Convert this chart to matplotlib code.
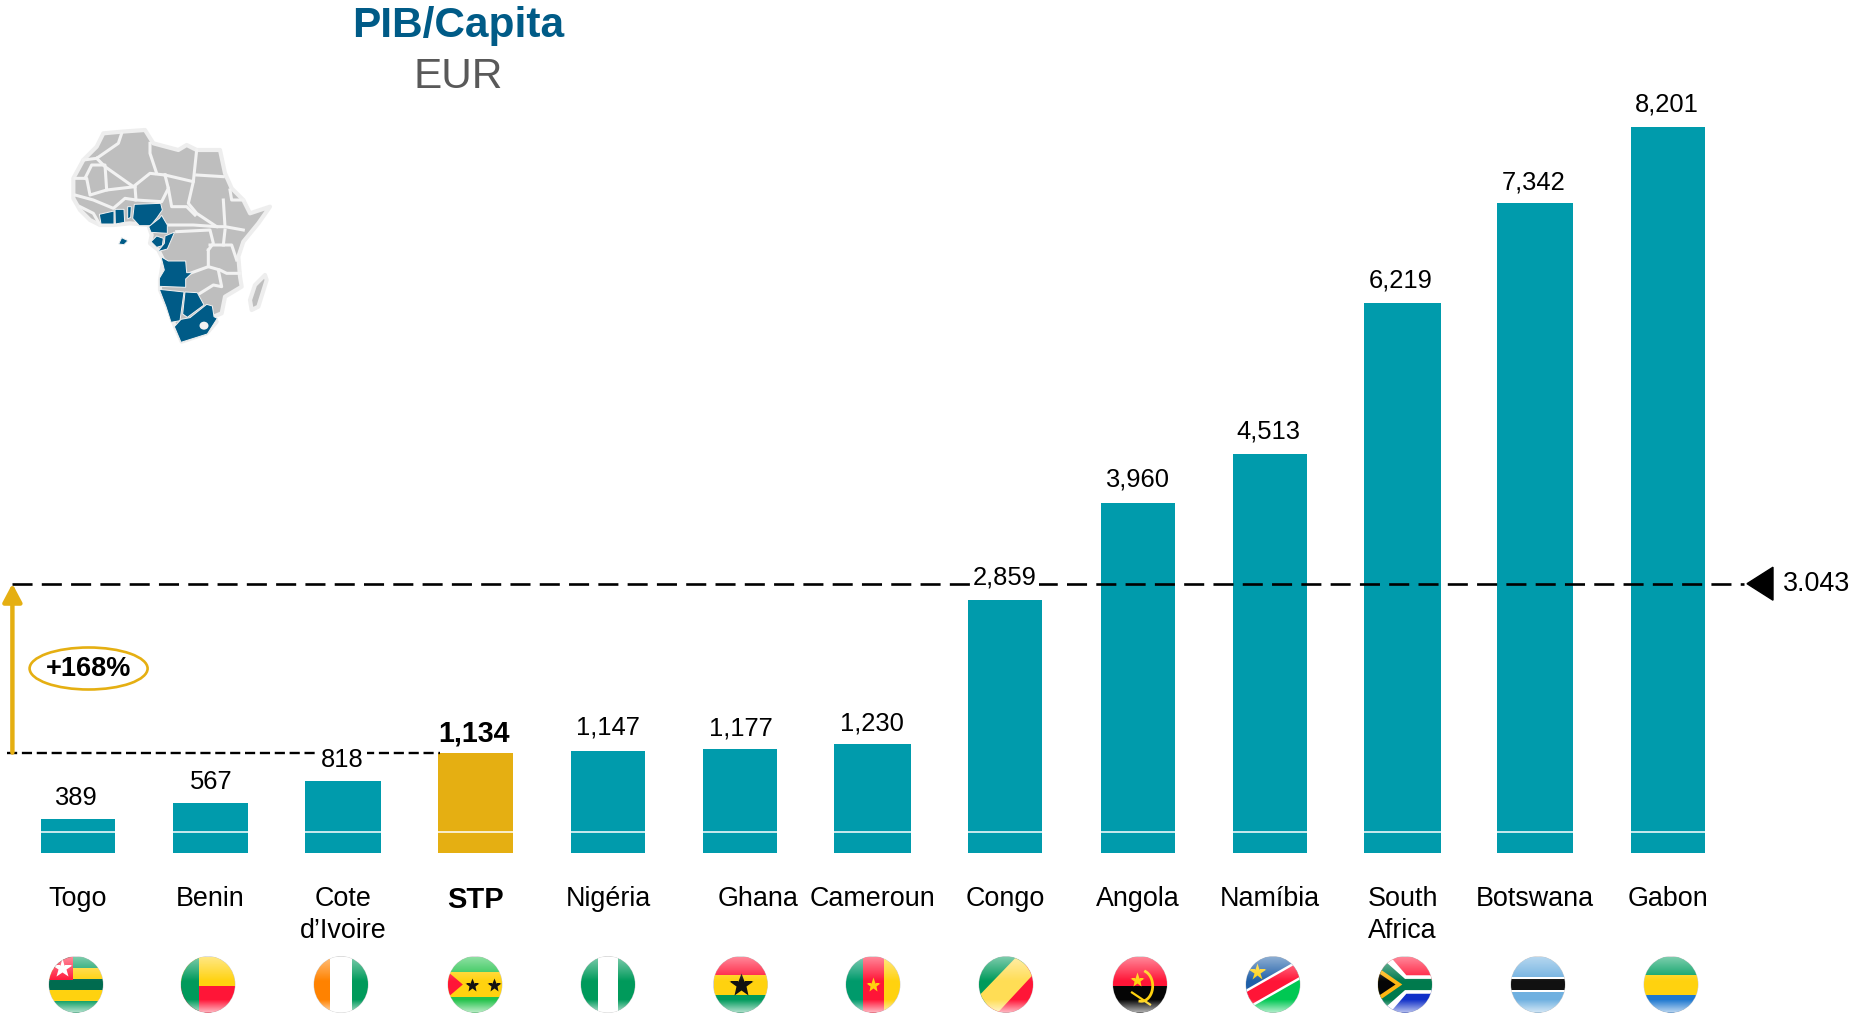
import matplotlib
matplotlib.use('Agg')
import matplotlib.pyplot as plt
from matplotlib.patches import Ellipse, Polygon
import numpy as np

plt.rcParams['font.family'] = ['Liberation Sans', 'DejaVu Sans']

# data
countries = ['Togo', 'Benin', 'Cote\nd\u2019Ivoire', 'STP', 'Nig\u00e9ria', 'Ghana', 'Cameroun',
             'Congo', 'Angola', 'Nam\u00edbia', 'South\nAfrica', 'Botswana', 'Gabon']
gdp = [389, 567, 818, 1134, 1147, 1177, 1230, 2859, 3960, 4513, 6219, 7342, 8201]
average = 3043
average_label = '3.043'
growth_label = '+168%'
stp = 'STP'

TEAL = '#009BAC'
GOLD = '#E5AF12'
BLUE = '#005B87'

W, H = 1852, 1013
X0, STEP = 78.0, 132.47      # pixel of first bar, pixels per category
BASE, SCALE = 853, 0.0885    # pixel of zero, pixels per EUR

# small label nudges in points, same order as countries
label_dx = [-1.6, 0.2, -0.3, -0.8, -0.3, 0.4, -0.4, -0.4, -0.4, -1.1, -1.1, -0.8, -0.4]
label_dy = [6.2, 6.2, 6.2, 3.4, 8.5, 6.2, 6.2, 7.6, 7.6, 7.0, 7.6, 6.2, 7.6]
bar_width = [0.56, 0.56, 0.58, 0.56, 0.56, 0.56, 0.58, 0.56, 0.56, 0.56, 0.58, 0.57, 0.56]


def px_x(px):
    return (px - X0) / STEP


fig = plt.figure(figsize=(W / 100, H / 100), dpi=100)
ax = fig.add_axes([0, 0, 1, 1])
ax.set_xlim(px_x(0), px_x(W))
ax.set_ylim((BASE - H) / SCALE, BASE / SCALE)
ax.axis('off')

# overlay in pixels for the map and flags
pic = fig.add_axes([0, 0, 1, 1])
pic.set_xlim(0, W)
pic.set_ylim(H, 0)
pic.axis('off')
pic.patch.set_alpha(0)

xs = np.arange(len(countries))
colors = [GOLD if c == stp else TEAL for c in countries]
ax.bar(xs, gdp, width=bar_width, color=colors, zorder=2)
# thin white stripe across the foot of every bar
half = np.array(bar_width) / 2
ax.hlines([232] * len(xs), xs - half, xs + half, color='white', lw=1.1, zorder=3)

# reference lines
ax.plot([px_x(12), px_x(1744)], [average, average], color='black', lw=1.9,
        linestyle=(0, (7.6, 3.5)), zorder=4)
ax.plot([px_x(7), px_x(440)], [gdp[3], gdp[3]], color='black', lw=1.7,
        linestyle=(0, (4.3, 2.0)), zorder=4)

# value labels
for x, v, c, dx, dy in zip(xs, gdp, countries, label_dx, label_dy):
    bold = c == stp
    box = dict(facecolor='white', edgecolor='none', pad=2) if v in (818, 2859) else None
    ax.annotate(f'{v:,}', (x, v), xytext=(dx, dy), textcoords='offset points',
                ha='center', va='bottom', fontsize=20.7 if bold else 18.4,
                fontweight='bold' if bold else 'normal', color='black', bbox=box, zorder=5)

# category labels
for x, c in zip(xs, countries):
    bold = c == stp
    dx = 12.7 if c == 'Ghana' else 0
    ax.annotate(c, (x, 0), xytext=(dx, -23.5), textcoords='offset points', ha='center', va='top',
                fontsize=21 if bold else 19.4, fontweight='bold' if bold else 'normal',
                linespacing=1.32, color='black')

# titles
pic.text(458, 25.5, 'PIB/Capita', ha='center', va='center', fontsize=30.5, fontweight='bold', color=BLUE)
pic.text(458, 76.5, 'EUR', ha='center', va='center', fontsize=30.5, color='#595959')

# growth arrow and ellipse
ax.annotate('', xy=(px_x(12.4), average), xytext=(px_x(12.4), gdp[3]),
            arrowprops=dict(arrowstyle='-|>,head_width=0.36,head_length=0.68', mutation_scale=16, color=GOLD, lw=3.2,
                            shrinkA=0, shrinkB=0), zorder=5)
pic.add_patch(Ellipse((88.6, 668.5), 118, 42, facecolor='none', edgecolor=GOLD, lw=1.9))
pic.text(88.6, 668.5, growth_label, ha='center', va='center', fontsize=19.5, fontweight='bold', color='black')

# average marker
tip = 1747
ax.add_patch(Polygon([[px_x(tip), average], [px_x(tip + 26), average + 16.5 / SCALE],
                      [px_x(tip + 26), average - 16.5 / SCALE]], color='black', zorder=5))
ax.text(px_x(1783), average, average_label, ha='left', va='center', fontsize=19.4, color='black')


# map, traced in crop coordinates
def mp(points):
    return [(50 + x / 3, 110 + y / 3) for x, y in points]


africa = [(160, 70), (215, 65), (285, 60), (310, 100), (385, 120), (410, 105), (440, 120), (510, 120), (525, 190),
          (545, 235), (580, 270), (600, 310), (660, 290), (625, 340), (580, 395), (565, 440), (570, 500), (575, 530),
          (525, 560), (515, 610), (490, 620), (500, 635), (470, 670), (395, 695), (375, 650), (360, 610), (330, 540),
          (330, 510), (340, 450), (325, 420), (300, 400), (305, 375), (295, 345), (240, 340), (190, 345), (150, 345),
          (120, 330), (90, 300), (70, 265), (70, 205), (100, 150), (140, 110)]
madagascar = [(645, 495), (650, 510), (625, 590), (605, 600), (600, 570), (615, 525)]
borders = [[(100, 150), (140, 145), (205, 100), (215, 70)],
           [(140, 145), (165, 170), (250, 230), (300, 190), (345, 195)],
           [(300, 100), (300, 130), (320, 190)],
           [(105, 205), (125, 165), (165, 165), (170, 240), (255, 230)],
           [(75, 205), (110, 205), (120, 255), (170, 240)],
           [(255, 230), (258, 270), (225, 265), (190, 295), (130, 270), (75, 255)],
           [(90, 290), (130, 310), (150, 345)],
           [(258, 270), (335, 275), (355, 235), (345, 195)],
           [(345, 195), (430, 215), (440, 120)],
           [(440, 195), (520, 200)],
           [(430, 215), (415, 280), (440, 310), (500, 350), (520, 350)],
           [(355, 235), (365, 290), (410, 290), (435, 315)],
           [(355, 345), (430, 345), (500, 350)],
           [(540, 240), (545, 270), (580, 270)],
           [(520, 270), (525, 350), (580, 360)],
           [(380, 365), (480, 360), (490, 400), (475, 420)],
           [(480, 405), (545, 405), (560, 450)],
           [(475, 420), (475, 470), (420, 490)],
           [(475, 470), (510, 480), (530, 490), (570, 490)],
           [(505, 480), (515, 530), (490, 525), (450, 550)],
           [(520, 405), (525, 360)]]
highlighted = [[(148, 313), (192, 303), (192, 342), (153, 342)],
               [(195, 298), (222, 298), (224, 337), (196, 342)],
               [(233, 290), (244, 290), (242, 322), (233, 327)],
               [(253, 283), (332, 280), (337, 300), (322, 322), (302, 347), (268, 347), (248, 325)],
               [(335, 316), (352, 345), (352, 370), (303, 367), (296, 350), (328, 325)],
               [(303, 395), (320, 378), (340, 385), (337, 407), (320, 412)],
               [(345, 378), (374, 366), (352, 417), (323, 425), (343, 400)],
               [(215, 383), (234, 392), (222, 404), (206, 402)],
               [(333, 440), (355, 453), (407, 453), (410, 488), (427, 488), (407, 507), (407, 532), (328, 529),
                (328, 505), (343, 480)],
               [(328, 538), (402, 546), (390, 632), (363, 637), (348, 590)],
               [(405, 546), (442, 548), (462, 585), (412, 622), (398, 612)],
               [(487, 588), (492, 620), (502, 625), (472, 672), (393, 697), (373, 650), (393, 628), (420, 623),
                (470, 583)]]
for shape in (africa, madagascar):
    pic.add_patch(Polygon(mp(shape), facecolor='#BEBEBE', edgecolor='#EEEEEE', lw=3, joinstyle='round'))
for line in borders:
    pts = np.array(mp(line))
    pic.plot(pts[:, 0], pts[:, 1], color='#F2F2F2', lw=2.2, solid_joinstyle='round')
for shape in highlighted:
    pic.add_patch(Polygon(mp(shape), facecolor=BLUE, edgecolor='#F2F2F2', lw=0.7, zorder=3))
pic.add_patch(Ellipse((50 + 462 / 3, 110 + 647 / 3), 9, 8, facecolor='#F2F2F2', edgecolor='none', zorder=4))

# flags
GREEN = '#009A5B'
YELLOW = '#FFD20F'
RED = '#FF1537'
flag_x = [76, 208, 341, 475, 608, 740.5, 873, 1006, 1140, 1273, 1405, 1538, 1671]
flag_y = 984.5
RX, RY = 27, 28

t = np.linspace(0, 1, 60)
gloss = np.ones((60, 1, 4))
gloss[:, 0, 3] = np.where(t < 0.45, 0.5 * (1 - t / 0.45), np.where(t > 0.78, (t - 0.78) / 0.22 * 0.65, 0))


def draw_flag(cx, parts, stars=()):
    clip = Ellipse((cx, flag_y), 2 * RX, 2 * RY, facecolor='white', edgecolor='#CCCCCC', lw=0.6, zorder=5)
    pic.add_patch(clip)
    for color, pts in parts:
        p = Polygon([(cx + x * RX, flag_y + y * RY) for x, y in pts], facecolor=color, edgecolor='none', zorder=6)
        pic.add_patch(p)
        p.set_clip_path(clip)
    for color, x, y, size in stars:
        s, = pic.plot(cx + x * RX, flag_y + y * RY, marker='*', ms=size, color=color, mec='none', zorder=7)
        s.set_clip_path(clip)
    im = pic.imshow(gloss, extent=(cx - RX, cx + RX, flag_y + RY, flag_y - RY), aspect='auto', zorder=8)
    im.set_clip_path(clip)


def hbands(colors, cuts):
    edges = [-1] + cuts + [1]
    return [(c, [(-1, a), (1, a), (1, b), (-1, b)]) for c, a, b in zip(colors, edges, edges[1:])]


def vbands(colors, cuts):
    edges = [-1] + cuts + [1]
    return [(c, [(a, -1), (b, -1), (b, 1), (a, 1)]) for c, a, b in zip(colors, edges, edges[1:])]


draw_flag(flag_x[0], hbands([GREEN, YELLOW, '#006B4F', YELLOW, GREEN], [-0.6, -0.2, 0.2, 0.6])
          + [(RED, [(-1, -1), (-0.1, -1), (-0.1, -0.16), (-1, -0.16)])], [('white', -0.52, -0.58, 15)])
draw_flag(flag_x[1], [(YELLOW, [(-1, -1), (1, -1), (1, 0.05), (-1, 0.05)]), (RED, [(-1, 0.05), (1, 0.05), (1, 1), (-1, 1)]),
                      (GREEN, [(-1, -1), (-0.33, -1), (-0.33, 1), (-1, 1)])])
draw_flag(flag_x[2], vbands(['#FF8200', 'white', GREEN], [-0.4, 0.4]))
draw_flag(flag_x[3], hbands(['#22C24A', YELLOW, '#22C24A'], [-0.45, 0.45]) + [(RED, [(-1, -0.45), (-0.45, 0), (-1, 0.45)])],
          [('#111111', -0.1, 0, 10), ('#111111', 0.7, 0, 10)])
draw_flag(flag_x[4], vbands([GREEN, 'white', GREEN], [-0.38, 0.38]))
draw_flag(flag_x[5], hbands([RED, YELLOW, GREEN], [-0.33, 0.38]), [('#111111', 0, 0, 18)])
draw_flag(flag_x[6], vbands(['#009A6B', RED, YELLOW], [-0.38, 0.4]), [(YELLOW, 0, 0, 11)])
draw_flag(flag_x[7], [(GREEN, [(-1, -1), (1, -1), (-1, 1)]), (RED, [(1, 1), (1, -1), (-1, 1)]),
                      ('#FFDD55', [(0.4, -1), (1, -1), (1, -0.35), (-0.3, 1), (-1, 1), (-1, 0.4)])])
draw_flag(flag_x[8], hbands([RED, '#050505'], [0.05]), [(YELLOW, -0.1, -0.15, 11)])
draw_flag(flag_x[9], [('#1F5FA8', [(-1, -1), (1, -1), (1, -0.55), (-1, 0.55)]), ('#00C853', [(1, 1), (1, -0.55), (-1, 0.55), (-1, 1)]),
                      ('white', [(1, -0.92), (1, -0.18), (-1, 0.92), (-1, 0.18)]),
                      (RED, [(1, -0.82), (1, -0.28), (-1, 0.82), (-1, 0.28)])], [(YELLOW, -0.6, -0.45, 13)])
draw_flag(flag_x[10], [(RED, [(-1, -1), (1, -1), (1, 0), (-1, 0)]), ('#1030C8', [(-1, 0), (1, 0), (1, 1), (-1, 1)]),
                       ('white', [(-1, -1), (-0.55, -1), (0.05, -0.33), (1, -0.33), (1, 0.33), (0.05, 0.33), (-0.55, 1), (-1, 1)]),
                       ('#007A4D', [(-1, -0.8), (-0.7, -0.8), (0, -0.2), (1, -0.2), (1, 0.2), (0, 0.2), (-0.7, 0.8), (-1, 0.8)]),
                       ('#FFB612', [(-1, -0.6), (-0.1, 0), (-1, 0.6)]),
                       ('#050505', [(-1, -0.42), (-0.35, 0), (-1, 0.42)])])
draw_flag(flag_x[11], hbands(['#6FB0E0', 'white', '#111111', 'white', '#6FB0E0'], [-0.28, -0.2, 0.2, 0.28]))
draw_flag(flag_x[12], hbands(['#009E60', YELLOW, '#1E78D0'], [-0.33, 0.36]))

# Angola emblem arc
arc = np.linspace(-1.2, 1.7, 30)
ex = flag_x[8] + 0.05 * RX + 0.42 * RX * np.cos(arc)
ey = flag_y + 0.05 * RY + 0.55 * RY * np.sin(arc)
pic.plot(ex, ey, color=YELLOW, lw=2, zorder=7)
pic.plot([flag_x[8] - 8, flag_x[8] + 10], [flag_y + 8, flag_y + 20], color=YELLOW, lw=1.6, zorder=7)

pic.set_xlim(0, W)
pic.set_ylim(H, 0)

plt.savefig('out.png', dpi=100)
